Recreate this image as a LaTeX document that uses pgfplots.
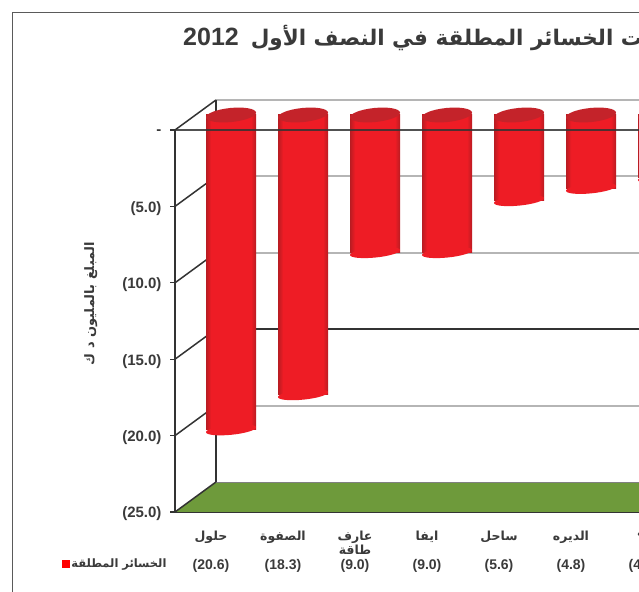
\documentclass[border=0pt]{standalone}
\usepackage{fontspec}
\usepackage{pgfplots}
\usepackage{pgfplotstable}
\pgfplotsset{compat=1.18}
\setmainfont{Liberation Sans}
\newfontfamily\arabicfont[Script=Arabic]{DejaVu Sans}
\TeXXeTstate=1
\newcommand{\ar}[1]{{\arabicfont\bfseries\beginR #1\endR}}

\definecolor{barred}{HTML}{EE1C25}
\definecolor{baredge}{HTML}{B81C22}
\definecolor{bartop}{HTML}{C4232A}
\definecolor{floorgreen}{HTML}{6E9A3B}
\definecolor{axisdark}{HTML}{333333}
\definecolor{gridgray}{HTML}{B5B5B5}
\definecolor{framegray}{HTML}{5A5A5A}
\definecolor{labelgray}{HTML}{3A3A3A}

% flat red with dark rims only
\pgfdeclarehorizontalshading{cylinder}{100bp}{
  color(0bp)=(baredge); color(25bp)=(baredge); color(30bp)=(barred);
  color(70bp)=(barred); color(75bp)=(baredge); color(100bp)=(baredge)}

\pgfdeclareplotmark{captop}{%
  \pgfpathellipse{\pgfpointorigin}{\pgfqpoint{25pt}{2.5pt}}{\pgfqpoint{-0.7pt}{7pt}}%
  \pgfusepathqfill}
\pgfdeclareplotmark{capbottom}{%
  \pgfpathellipse{\pgfpointorigin}{\pgfqpoint{25pt}{2.5pt}}{\pgfqpoint{-0.5pt}{5pt}}%
  \pgfusepathqfill}

\pgfplotstableread{
x  loss
0  -20.6
1  -18.3
2  -9.0
3  -9.0
4  -5.6
5  -4.8
6  -4.1
}\losses

\begin{document}
\begin{tikzpicture}[x=1pt,y=1pt]
\path[use as bounding box,clip] (0,0) rectangle (639,591);
\fill[white] (0,0) rectangle (639,591);
\draw[framegray,line width=1.6pt] (12.5,-5) -- (12.5,578.5) -- (650,578.5);
\node[anchor=west,inner sep=0pt,text=labelgray] at (183,553)
  {\beginR{\arabicfont\bfseries\fontsize{21.5}{26}\selectfont ذات الخسائر المطلقة في النصف الأول}\hspace{12pt}\beginL{\bfseries\fontsize{25}{28}\selectfont 2012}\endL\endR};
\begin{axis}[
  at={(175pt,79pt)},
  anchor=south west,
  scale only axis,
  width=504pt,
  height=382pt,
  xmin=-0.5, xmax=6.5,
  ymin=-25, ymax=0,
  clip=false,
  axis x line*=bottom,
  axis y line*=left,
  axis line style={axisdark,line width=2pt,-},
  xtick={0,...,6},
  xticklabels={
    \ar{حلول},\ar{الصفوة},{\ar{عارف}\\\ar{طاقة}},\ar{ايفا},\ar{ساحل},\ar{الديره},\ar{ـة}},
  xticklabel style={font=\fontsize{12.5}{14.5}\selectfont,text=labelgray,align=center,anchor=north,yshift=-10pt},
  major x tick style={draw=none},
  ytick={-25,-20,-15,-10,-5,0},
  yticklabels={(25.0),(20.0),(15.0),(10.0),(5.0),-\hspace{14pt}},
  yticklabel style={font=\bfseries\fontsize{15}{17}\selectfont,text=labelgray,xshift=-5pt,yshift=-2pt},
  major y tick style={axisdark,line width=1.2pt},
  tick align=outside,
  major tick length=5pt,
  ylabel={\arabicfont\bfseries\beginR المبلغ بالمليون د ك\endR},
  ylabel style={font=\fontsize{13}{15}\selectfont,text=labelgray,at={(axis description cs:-0.167,0.545)},anchor=center},
  legend style={at={(axis description cs:-0.118,-0.136)},anchor=center,draw=none,fill=none,
    font=\fontsize{11.5}{13}\selectfont,text=labelgray,inner sep=0pt},
  legend cell align=left,
]
\addlegendimage{only marks,mark=square*,mark size=3.4pt,color=red}
% back plane
\addplot[gridgray,line width=1.8pt,forget plot] coordinates {(0.069,1.963) (7.2,1.963)};
\addplot[gridgray,line width=1.8pt,forget plot] coordinates {(0.069,-3.037) (7.2,-3.037)};
\addplot[gridgray,line width=1.8pt,forget plot] coordinates {(0.069,-8.037) (7.2,-8.037)};
\addplot[axisdark,line width=1.5pt,forget plot] coordinates {(0.069,-13.037) (7.2,-13.037)};
\addplot[gridgray,line width=1.8pt,forget plot] coordinates {(0.069,-18.037) (7.2,-18.037)};
% floor
\addplot[fill=floorgreen,draw=none,forget plot] coordinates {(-0.5,-25) (0.069,-23.037) (7.2,-23.037) (7.2,-25)};
\addplot[gray,line width=1pt,forget plot] coordinates {(0.069,-23.037) (7.2,-23.037)};
% side wall
\addplot[axisdark,line width=2pt,forget plot] coordinates {(0.069,1.963) (0.069,-23.037)};
\addplot[axisdark,line width=1.5pt,forget plot] coordinates {(-0.5,0) (0.069,1.963)};
\addplot[axisdark,line width=1.5pt,forget plot] coordinates {(-0.5,-5) (0.069,-3.037)};
\addplot[axisdark,line width=1.5pt,forget plot] coordinates {(-0.5,-10) (0.069,-8.037)};
\addplot[axisdark,line width=1.5pt,forget plot] coordinates {(-0.5,-15) (0.069,-13.037)};
\addplot[axisdark,line width=1.5pt,forget plot] coordinates {(-0.5,-20) (0.069,-18.037)};
\addplot[axisdark,line width=1.5pt,forget plot] coordinates {(-0.5,-25) (0.069,-23.037)};
% cylinders, one plot per bar so each gets its own shading
\addplot[only marks,mark=capbottom,color=barred,xshift=20pt,yshift=15pt,forget plot] table[x=x,y=loss] {\losses};
\pgfplotsinvokeforeach{0,...,6}{
  \addplot[ybar,bar width=50pt,bar shift=0pt,draw=none,shading=cylinder,
    xshift=20pt,yshift=15pt,forget plot,restrict x to domain=#1:#1] table[x=x,y=loss] {\losses};
}
\addplot[only marks,mark=captop,color=bartop,xshift=20pt,yshift=15pt,forget plot] coordinates {
  (0,0) (1,0) (2,0) (3,0) (4,0) (5,0) (6,0)};
% front top edge
\addplot[axisdark,opacity=0.85,line width=1.6pt,forget plot] coordinates {(-0.5,0) (7.2,0)};
% value row under the names
\addplot[draw=none,point meta=explicit symbolic,nodes near coords,forget plot,
  nodes near coords style={font=\bfseries\fontsize{14}{16}\selectfont,text=labelgray,anchor=center,yshift=-53.5pt}]
  coordinates {(0,-25)[(20.6)] (1,-25)[(18.3)] (2,-25)[(9.0)] (3,-25)[(9.0)] (4,-25)[(5.6)] (5,-25)[(4.8)] (6,-25)[(4.1)]};
\legend{{\arabicfont\bfseries\beginR الخسائر المطلقة\endR}}
\end{axis}
\end{tikzpicture}
\end{document}
